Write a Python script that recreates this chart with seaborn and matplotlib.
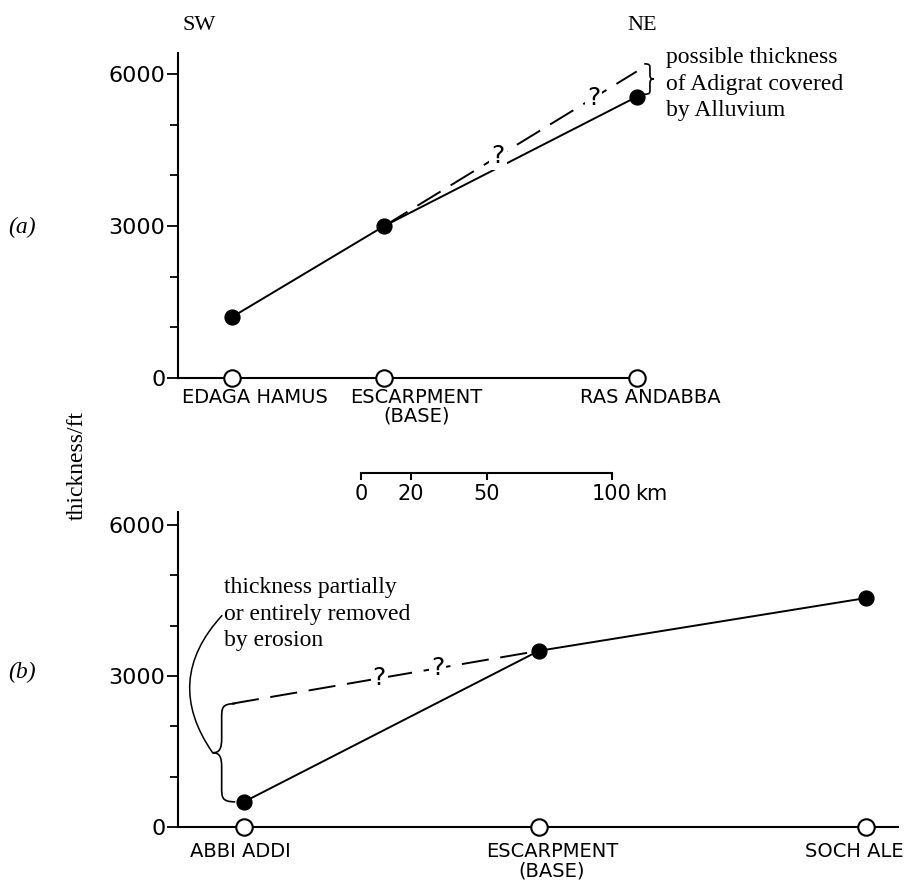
"""
Adigrat sandstone thickness along two SW-NE sections, (a) and (b).
"""

import numpy as np
import pandas as pd
import matplotlib
matplotlib.use("Agg")
import matplotlib.pyplot as plt
import matplotlib.transforms as mtransforms
from matplotlib.path import Path
from matplotlib.patches import PathPatch
from matplotlib.ticker import MultipleLocator
import seaborn as sns

# (a) Edaga Hamus - Ras Andabba
sites_a = ["EDAGA HAMUS", "ESCARPMENT\n(BASE)", "RAS ANDABBA"]
dist_a = [0, 61, 162]                 # km along section
thick_a = [1200, 3000, 5550]          # ft
possible_dist_a = [61, 162]
possible_thick_a = [3000, 6050]

# (b) Abbi Addi - Soch Ale
sites_b = ["ABBI ADDI", "ESCARPMENT\n(BASE)", "SOCH ALE"]
dist_b = [0, 117.5, 248]
thick_b = [500, 3500, 4550]
possible_dist_b = [-4.8, 117.5]
possible_thick_b = [2450, 3500]

scale_km = [0, 20, 50, 100]

SANS = ["DejaVu Sans"]
SERIF = ["Liberation Serif", "DejaVu Serif"]

sns.set_theme(style="ticks")
plt.rcParams["font.family"] = SANS
plt.rcParams.update({"text.color": "black", "axes.labelcolor": "black",
                     "xtick.color": "black", "ytick.color": "black"})

fig = plt.figure(figsize=(9.1, 8.82), dpi=100)
W, H = 910, 882


def px_axes(l, t, r, b):
    return fig.add_axes([l / W, 1 - b / H, (r - l) / W, (b - t) / H])


def brace(ax, x0, ya, yb, depth, lw=1.2):
    """Curly brace between ya and yb, tip pointing by `depth` in x."""
    ym = (ya + yb) / 2
    r = 0.15 * (yb - ya)
    xm = x0 + 0.6 * depth
    xt = x0 + depth
    verts = [(x0, yb), (xm, yb), (xm, yb - 0.3 * r), (xm, yb - r),
             (xm, ym + r),
             (xm, ym + 0.3 * r), (xm + 0.2 * (xt - xm), ym), (xt, ym),
             (xm + 0.2 * (xt - xm), ym), (xm, ym - 0.3 * r), (xm, ym - r),
             (xm, ya + r),
             (xm, ya + 0.3 * r), (xm, ya), (x0, ya)]
    codes = [Path.MOVETO] + [Path.CURVE4] * 3 + [Path.LINETO] + [Path.CURVE4] * 6 \
        + [Path.LINETO] + [Path.CURVE4] * 3
    ax.add_patch(PathPatch(Path(verts, codes), fill=False, lw=lw,
                           edgecolor="black", clip_on=False))
    return xt, ym


def draw_panel(ax, sites, dist, thick, pdist, pthick, q_fracs, xlim, ytop,
               label_dx, label_pad):
    df = pd.DataFrame({"dist": dist, "thick": thick})
    sns.lineplot(data=df, x="dist", y="thick", color="black", lw=1.4,
                 sort=False, estimator=None, ax=ax)
    sns.lineplot(x=pdist, y=pthick, color="black", lw=1.4,
                 linestyle=(0, (14, 6)), sort=False, estimator=None, ax=ax)
    sns.scatterplot(data=df, x="dist", y="thick", s=117, color="black",
                    edgecolor="black", zorder=5, clip_on=False, ax=ax)
    base = df.assign(thick=0)
    sns.scatterplot(data=base, x="dist", y="thick", s=140, color="white",
                    edgecolor="black", linewidth=1.5, zorder=6, clip_on=False, ax=ax)

    # question marks on the dashed (possible) line
    for f in q_fracs:
        qx = pdist[0] + f * (pdist[1] - pdist[0])
        qy = np.interp(qx, pdist, pthick)
        ax.text(qx, qy, "?", ha="center", va="center", fontsize=18,
                bbox=dict(facecolor="white", edgecolor="none", pad=1.5), zorder=4)

    ax.set_xlim(*xlim)
    ax.set_ylim(0, ytop)
    ax.set_xlabel("")
    ax.set_ylabel("")
    ax.set_yticks([0, 3000, 6000])
    ax.yaxis.set_minor_locator(MultipleLocator(1000))
    ax.tick_params(axis="y", which="major", length=8, width=1.3, pad=1,
                   labelsize=16)
    ax.tick_params(axis="y", which="minor", length=6, width=1.3)
    ax.set_xticks(dist)
    ax.set_xticklabels(sites, fontsize=14, linespacing=1.0)
    ax.tick_params(axis="x", length=0, pad=label_pad)
    for lab, dx in zip(ax.get_xticklabels(), label_dx):
        lab.set_transform(lab.get_transform()
                          + mtransforms.ScaledTranslation(dx / 100, 0, fig.dpi_scale_trans))
    sns.despine(ax=ax)
    for s in ["left", "bottom"]:
        ax.spines[s].set_linewidth(1.5)
        ax.spines[s].set_color("black")
    ax.set_facecolor("white")


# ---- panel (a)
ax_a = px_axes(178, 53, 638, 378)
draw_panel(ax_a, sites_a, dist_a, thick_a, possible_dist_a, possible_thick_a,
           [0.45, 0.83], (-21.5, 162.5), 6414, [23, 32, 14], 7)
brace(ax_a, 165.0, 5600, 6200, 3.8)
ax_a.text(173.5, 5800, "possible thickness\nof Adigrat covered\nby Alluvium",
          ha="left", va="center", fontsize=17, family=SERIF, linespacing=1.33)

# ---- panel (b)
ax_b = px_axes(178, 512, 898, 827)
draw_panel(ax_b, sites_b, dist_b, thick_b, possible_dist_b, possible_thick_b,
           [0.48, 0.67], (-26.3, 260.6), 6258, [-4, 13, -12], 11)
tip_x, tip_y = brace(ax_b, -3.5, thick_b[0], possible_thick_b[0], -9.0)
ax_b.text(-8.0, 4230, "thickness partially\nor entirely removed\nby erosion",
          ha="left", va="center", fontsize=17, family=SERIF, linespacing=1.33)
ax_b.annotate("", xy=(tip_x, tip_y), xytext=(-8.8, 4200),
              arrowprops=dict(arrowstyle="-", connectionstyle="arc3,rad=0.4",
                              lw=1.1, color="black", shrinkA=0, shrinkB=0))

# ---- distance scale bar
ax_s = px_axes(361, 472, 612, 473)
ax_s.set_xlim(0, 100)
ax_s.set_yticks([])
ax_s.set_xticks(scale_km)
ax_s.set_xticklabels([str(k) for k in scale_km])
for s in ["top", "left", "right"]:
    ax_s.spines[s].set_visible(False)
ax_s.spines["bottom"].set_linewidth(1.5)
ax_s.spines["bottom"].set_color("black")
ax_s.tick_params(axis="x", direction="out", length=5, width=1.5, pad=3,
                 labelsize=15)
ax_s.patch.set_alpha(0)
ax_s.annotate("km", xy=(100, 0), xycoords=("data", "axes fraction"),
              xytext=(17, -8), textcoords="offset points", ha="left", va="top",
              fontsize=15)

# ---- figure labels
fig.text(183 / W, 1 - 25 / H, "SW", ha="left", va="center", fontsize=16, family=SERIF)
fig.text(627 / W, 1 - 25 / H, "NE", ha="left", va="center", fontsize=16, family=SERIF)
fig.text(22 / W, 1 - 227 / H, "(a)", ha="center", va="center", fontsize=17,
         family=SERIF, style="italic")
fig.text(22 / W, 1 - 672 / H, "(b)", ha="center", va="center", fontsize=17,
         family=SERIF, style="italic")
fig.text(77 / W, 1 - 465 / H, "thickness/ft", ha="center", va="center",
         rotation=90, fontsize=17, family=SERIF)

fig.savefig("out.png", dpi=100, facecolor="white")
plt.close(fig)
